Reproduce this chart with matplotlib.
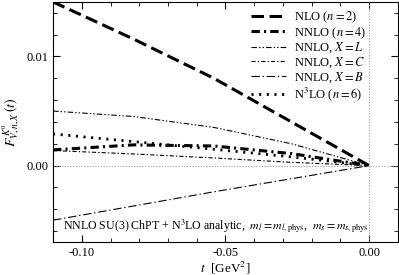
import matplotlib
matplotlib.use('Agg')
import matplotlib.pyplot as plt
from matplotlib.ticker import MultipleLocator, FormatStrFormatter

plt.rcParams['font.family'] = ['Liberation Serif', 'DejaVu Serif']
plt.rcParams['mathtext.fontset'] = 'stix'
plt.rcParams['lines.scale_dashes'] = False

# t values (GeV^2)
t = [-0.11, -0.082, -0.054, -0.027, 0.0]

nlo = [0.0150, 0.0116, 0.0080, 0.0040, 0.0]
nnlo = [0.00144, 0.0019, 0.0018, 0.0011, 0.0]
nnlo_L = [0.0050, 0.0045, 0.0035, 0.0020, 0.0]
nnlo_C = [0.00138, 0.00107, 0.0007, 0.0003, 0.0]
nnlo_B = [-0.0050, -0.0037, -0.0024, -0.0012, 0.0]
n3lo = [0.0029, 0.0022, 0.0015, 0.0008, 0.0]

fig = plt.figure(figsize=(3.99, 2.75), dpi=100)
ax = fig.add_axes([0.133, 0.12, 0.864, 0.873])

ax.axhline(0, color='#999999', lw=0.6, ls=(0, (1, 1)))
ax.axvline(0, color='#999999', lw=0.6, ls=(0, (1, 1)))

ax.plot(t, nlo, color='k', lw=2.2, ls=(0, (9, 4)), label=r'NLO ($n=2$)')
ax.plot(t, nnlo, color='k', lw=2.2, ls=(0, (6, 3, 1.5, 3)), label=r'NNLO ($n=4$)')
ax.plot(t, nnlo_L, color='k', lw=0.8, ls=(0, (4, 1.5, 1, 1.5, 1, 1.5)), label=r'NNLO, $X=L$')
ax.plot(t, nnlo_C, color='k', lw=0.8, ls=(0, (3, 1.5, 1, 1.5)), label=r'NNLO, $X=C$')
ax.plot(t, nnlo_B, color='k', lw=0.8, ls=(0, (6, 2, 1, 2)), label=r'NNLO, $X=B$')
ax.plot(t, n3lo, color='k', lw=2.0, ls=(0, (1.5, 4)), label=r'N$^3$LO ($n=6$)')

ax.set_xlim(-0.11, 0.01)
ax.set_ylim(-0.007, 0.015)
ax.xaxis.set_major_locator(MultipleLocator(0.05))
ax.xaxis.set_minor_locator(MultipleLocator(0.01))
ax.yaxis.set_major_locator(MultipleLocator(0.01))
ax.yaxis.set_minor_locator(MultipleLocator(0.002))
ax.xaxis.set_major_formatter(FormatStrFormatter('%.2f'))
ax.yaxis.set_major_formatter(FormatStrFormatter('%.2f'))
ax.tick_params(which='both', direction='in', top=True, right=True, labelsize=9)
ax.tick_params(which='major', length=5)
ax.tick_params(which='minor', length=3)

ax.set_xlabel(r'$t$  [GeV$^2$]', fontsize=9.5, labelpad=1)
ax.set_ylabel(r'$F^{\,K^0}_{V,n,X}\,(t)$', fontsize=10, labelpad=3)

ax.text(0.03, 0.05, r'NNLO SU(3) ChPT + N$^3$LO analytic,  $m_l=m_{l,\mathrm{phys}}$,  $m_s=m_{s,\mathrm{phys}}$',
        transform=ax.transAxes, fontsize=8.6)

ax.legend(loc='upper right', bbox_to_anchor=(0.93, 1.0), frameon=False, fontsize=9,
          handlelength=2.8, labelspacing=0.02, handletextpad=0.6, borderaxespad=0.2)

fig.savefig('out.png', dpi=100)
